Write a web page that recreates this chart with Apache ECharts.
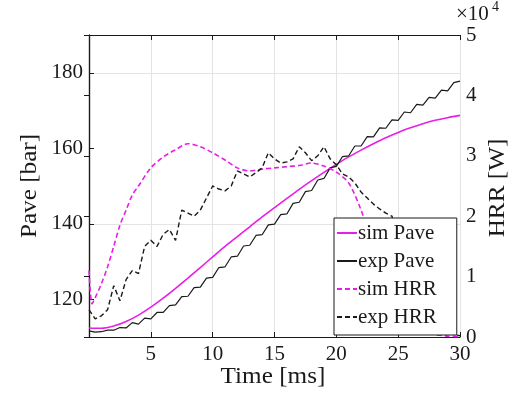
<!DOCTYPE html>
<html>
<head>
<meta charset="utf-8">
<script src="https://cdn.jsdelivr.net/npm/echarts@6/dist/echarts.min.js"></script>
<style>
  html, body { margin: 0; padding: 0; background: #fff; }
  #chart { width: 517px; height: 400px; }
</style>
</head>
<body>
<div id="chart"></div>
<script>
// time stamps [ms]
const timeInt = [0, 1, 2, 3, 4, 5, 6, 7, 8, 9, 10, 11, 12, 13, 14, 15, 16, 17, 18, 19, 20,
  21, 22, 23, 24, 25, 26, 27, 28, 29, 30];
const timeHalf = [0, 0.5, 1, 1.5, 2, 2.5, 3, 3.5, 4, 4.5, 5, 5.5, 6, 6.5, 7, 7.5, 8, 8.5, 9, 9.5,
  10, 10.5, 11, 11.5, 12, 12.5, 13, 13.5, 14, 14.5, 15, 15.5, 16, 16.5, 17, 17.5, 18, 18.5, 19, 19.5,
  20, 20.5, 21, 21.5, 22, 22.5, 23, 23.5, 24, 24.5, 25, 25.5, 26, 26.5, 27, 27.5, 28, 28.5, 29, 29.5, 30];
const timeSimHrr = [0, 0.25, 0.5, 1, 1.5, 2, 2.5, 3, 3.5, 4, 5, 6, 7, 8, 9, 10, 11, 12, 13, 14, 15,
  16, 17, 18, 19, 20, 21, 22, 23, 24, 25, 26, 27, 28, 29, 30];

// average pressure [bar]
const simPave = [112.4, 112.3, 112.9, 114.1, 115.8, 117.9, 120.3, 122.9, 125.6, 128.4, 131.2,
  134.0, 136.6, 139.2, 141.8, 144.3, 146.7, 149.1, 151.4, 153.6, 155.7, 157.7, 159.5, 161.2,
  162.8, 164.2, 165.4, 166.5, 167.4, 168.1, 168.7];
const expPave = [111.6, 111.0, 111.7, 111.4, 112.2, 112.0, 112.9, 113.2, 114.0, 114.4, 115.4,
  115.9, 117.1, 117.7, 119.1, 120.1, 121.4, 122.5, 123.8, 125.0, 126.4, 127.8, 129.2, 130.6,
  132.0, 133.5, 134.9, 136.3, 137.7, 139.1, 140.5, 141.8, 143.2, 144.8, 146.3, 147.9, 149.4,
  151.0, 152.6, 154.2, 155.8, 157.2, 158.6, 160.0, 161.2, 162.5, 163.6, 164.8, 165.9, 166.9,
  168.0, 169.0, 170.0, 171.0, 172.0, 172.9, 173.9, 174.8, 175.8, 176.8, 177.8];
const expPaveRipple = [0, 0.3, -0.3, 0.4, -0.4, 0.5, -0.5, 0.6, -0.6, 0.6, -0.6, 0.6, -0.6, 0.6,
  -0.6, 0.6, -0.6, 0.6, -0.6, 0.6, -0.6, 0.6, -0.6, 0.6, -0.6, 0.6, -0.6, 0.6, -0.6, 0.6, -0.6,
  0.6, -0.6, 0.6, -0.6, 0.6, -0.6, 0.6, -0.6, 0.6, -0.6, 0.6, -0.6, 0.6, -0.6, 0.6, -0.6, 0.6,
  -0.6, 0.6, -0.6, 0.6, -0.6, 0.6, -0.6, 0.6, -0.6, 0.6, -0.6, 0.6, 0];

// heat release rate [W]
const simHrr = [11000, 5500, 6500, 8800, 11600, 15000, 18500, 21000, 23500, 25000, 28000, 29800,
  31000, 32000, 31500, 30500, 29300, 28000, 27500, 27800, 28000, 28200, 28400, 28800, 28300,
  27300, 25500, 21000, 15000, 9000, 5000, 2500, 1000, 400, 150, 50];
const expHrr = [4500, 3000, 3500, 4500, 8500, 6000, 9500, 11000, 10500, 15000, 16000, 15000,
  17000, 17800, 16000, 21000, 20500, 20000, 21000, 23000, 25000, 24500, 24200, 25000, 27500,
  27000, 26500, 27200, 28000, 30500, 29500, 28800, 29000, 29500, 31500, 30500, 29200, 30000,
  31500, 29500, 28500, 27000, 26500, 25500, 24000, 23000, 22000, 21200, 20500, 20000, 16000,
  13000, 10000, 7500, 5000, 3500, 2000, 1200, 700, 400, 200];

const paveTicks = [120, 140, 160, 180];
const legendNames = ["sim Pave", "exp Pave", "sim HRR", "exp HRR"];

const zip = (xs, ys) => xs.map((x, i) => [x, ys[i]]);

const chart = echarts.init(document.getElementById("chart"));
// serif only renders up to 21px here, bigger titles are scaled
const font = "Liberation Serif";
const ink = "#1a1a1a";
const magenta = "#e81ee8";

const tickLabel = { fontFamily: font, fontSize: 21, lineHeight: 16, color: ink, margin: 6 };
const titleStyle = { fontFamily: font, fontSize: 21, fill: ink, align: "center", verticalAlign: "middle" };

chart.setOption({
  animation: false,
  textStyle: { fontFamily: font },
  grid: { left: 89, right: 57, top: 35, bottom: 63 },
  legend: {
    data: legendNames,
    orient: "vertical",
    left: 334,
    top: 218,
    itemWidth: 20,
    itemHeight: 2,
    itemGap: 6,
    padding: [4, 20, 7, 2],
    backgroundColor: "#fff",
    borderColor: ink,
    borderWidth: 1,
    borderRadius: 0,
    textStyle: { fontFamily: font, fontSize: 21, lineHeight: 22, color: ink, padding: [0, 0, 0, -4] },
  },
  xAxis: [
    {
      type: "value",
      min: 0,
      max: 30,
      interval: 5,
      axisLine: { lineStyle: { color: ink, width: 1.2 } },
      axisTick: { inside: true, length: 5, lineStyle: { color: ink } },
      axisLabel: { ...tickLabel, margin: 9, formatter: (v) => (v === 0 ? "" : String(v)) },
      splitLine: { show: true, lineStyle: { color: "#e4e4e4", width: 1 } },
    },
    {
      type: "value",
      position: "top",
      min: 0,
      max: 30,
      interval: 5,
      axisLine: { show: true, lineStyle: { color: ink, width: 1.2 } },
      axisTick: { show: true, inside: true, length: 5, lineStyle: { color: ink } },
      axisLabel: { show: false },
      splitLine: { show: false },
    },
  ],
  yAxis: [
    {
      type: "value",
      min: 110,
      max: 190,
      interval: 10,
      axisLine: { show: true, lineStyle: { color: ink, width: 1.2 } },
      axisTick: { show: true, inside: true, length: 5, customValues: paveTicks, lineStyle: { color: ink } },
      axisLabel: {
        ...tickLabel,
        customValues: paveTicks,
        formatter: (v) => (paveTicks.includes(v) ? String(v) : ""),
      },
      splitLine: { show: true, lineStyle: { color: ["transparent", "#e4e4e4"], width: 1 } },
    },
    {
      type: "value",
      min: 0,
      max: 50000,
      interval: 10000,
      axisLine: { show: true, lineStyle: { color: ink, width: 1.2 } },
      axisTick: { show: true, inside: true, length: 5, lineStyle: { color: ink } },
      axisLabel: { ...tickLabel, formatter: (v) => String(v / 10000) },
      splitLine: { show: false },
    },
  ],
  graphic: [
    { type: "text", x: 273, y: 377, scaleX: 1.2, scaleY: 1.12, style: { ...titleStyle, text: "Time [ms]" } },
    { type: "text", x: 30, y: 186, rotation: Math.PI / 2, scaleX: 1.2, scaleY: 1.12, style: { ...titleStyle, text: "Pave [bar]" } },
    { type: "text", x: 498, y: 188, rotation: Math.PI / 2, scaleX: 1.2, scaleY: 1.12, style: { ...titleStyle, text: "HRR [W]" } },
    { type: "text", left: 456, top: 4, style: { text: "×10", fontFamily: font, fontSize: 21, lineHeight: 18, fill: ink } },
    { type: "text", left: 492, top: 0, style: { text: "4", fontFamily: font, fontSize: 14, fill: ink } },
  ],
  series: [
    {
      name: "sim Pave",
      type: "line",
      yAxisIndex: 0,
      data: zip(timeInt, simPave),
      smooth: 0.3,
      showSymbol: false,
      symbol: "none",
      lineStyle: { color: magenta, width: 1.6 },
      itemStyle: { color: magenta },
    },
    {
      name: "exp Pave",
      type: "line",
      yAxisIndex: 0,
      data: zip(timeHalf, expPave.map((p, i) => p + expPaveRipple[i])),
      showSymbol: false,
      symbol: "none",
      lineStyle: { color: ink, width: 1.2 },
      itemStyle: { color: ink },
    },
    {
      name: "sim HRR",
      type: "line",
      yAxisIndex: 1,
      data: zip(timeSimHrr, simHrr),
      smooth: 0.3,
      showSymbol: false,
      symbol: "none",
      lineStyle: { color: magenta, width: 1.6, type: [5, 3] },
      itemStyle: { color: magenta },
    },
    {
      name: "exp HRR",
      type: "line",
      yAxisIndex: 1,
      data: zip(timeHalf, expHrr),
      showSymbol: false,
      symbol: "none",
      lineStyle: { color: ink, width: 1.4, type: [5, 3] },
      itemStyle: { color: ink },
    },
  ],
});
</script>
</body>
</html>
